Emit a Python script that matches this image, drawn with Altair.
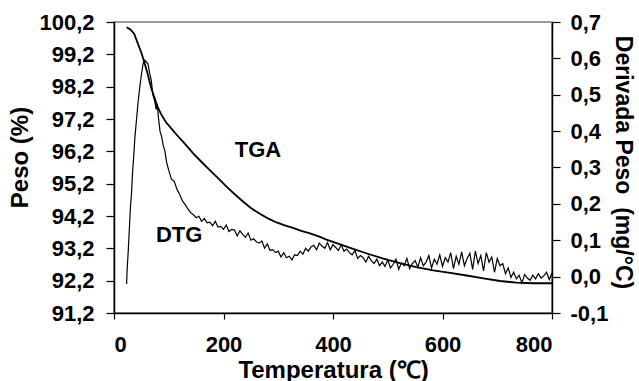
import altair as alt
import pandas as pd

# ---- data ----
tga_temp = [23, 30, 37, 45, 50, 55, 61, 67, 73, 79, 86, 95, 105, 114, 130, 145, 160, 175,
            190, 206, 220, 236, 250, 267, 282, 297, 312, 327, 342, 358, 375, 388, 400, 430,
            462, 492, 522, 552, 583, 614, 644, 675, 705, 735, 765, 800]
tga_peso = [100.04, 99.97, 99.83, 99.47, 99.25, 98.98, 98.62, 98.22, 97.90, 97.60, 97.35,
            97.10, 96.90, 96.72, 96.42, 96.13, 95.87, 95.62, 95.37, 95.10, 94.88, 94.64,
            94.45, 94.26, 94.12, 94.00, 93.91, 93.83, 93.74, 93.66, 93.56, 93.47, 93.40,
            93.22, 93.04, 92.88, 92.74, 92.62, 92.52, 92.44, 92.36, 92.27, 92.19, 92.14,
            92.12, 92.12]

dtg_temp = [23, 24, 26, 28, 30, 32, 34, 36, 38, 41, 44, 47, 50, 53, 56, 59, 62, 65, 68, 71,
            74, 77, 79, 81, 84, 87, 90, 93, 96,
            100, 105, 110, 115, 120, 125, 130, 135, 140, 145, 150, 155, 160, 165, 170, 175, 180, 185, 190, 195,
            200, 205, 210, 215, 220, 225, 230, 235, 240, 245, 250, 255, 260, 265, 270, 275, 280, 285, 290, 295,
            300, 305, 310, 315, 320, 325, 330, 335, 340, 345, 350, 355, 360, 365, 370, 375, 380, 385, 390, 395,
            400, 405, 410, 415, 420, 425, 430, 435, 440, 445, 450, 455, 460, 465, 470, 475, 480, 485, 490, 495,
            500, 505, 510, 515, 520, 525, 530, 535, 540, 545, 550, 555, 560, 565, 570, 575, 580, 585, 590, 595,
            600, 605, 610, 615, 620, 625, 630, 635, 640, 645, 650, 655, 660, 665, 670, 675, 680, 685, 690, 695,
            700, 705, 710, 715, 720, 725, 730, 735, 740, 745, 750, 755, 760, 765, 770, 775, 780, 785, 790, 795,
            800]
dtg_val = [-0.020, 0.020, 0.070, 0.130, 0.190, 0.230, 0.290, 0.330, 0.380, 0.430, 0.480,
           0.520, 0.555, 0.585, 0.595, 0.590, 0.585, 0.560, 0.540, 0.500, 0.485, 0.460,
           0.475, 0.440, 0.400, 0.385, 0.360, 0.345, 0.315,
           0.292, 0.268, 0.262, 0.240, 0.226, 0.208, 0.198, 0.186, 0.176, 0.170, 0.162, 0.166, 0.152, 0.160, 0.148, 0.150, 0.140, 0.152, 0.136, 0.138,
           0.130, 0.142, 0.124, 0.130, 0.128, 0.112, 0.126, 0.116, 0.108, 0.120, 0.100, 0.104, 0.096, 0.092, 0.098, 0.078, 0.090, 0.072, 0.074, 0.066,
           0.070, 0.054, 0.066, 0.052, 0.056, 0.046, 0.060, 0.058, 0.070, 0.062, 0.078, 0.070, 0.082, 0.086, 0.074, 0.092, 0.084, 0.078, 0.094, 0.074,
           0.088, 0.080, 0.072, 0.088, 0.070, 0.076, 0.066, 0.060, 0.072, 0.050, 0.058, 0.052, 0.040, 0.056, 0.044, 0.036, 0.048, 0.030, 0.040, 0.028,
           0.046, 0.024, 0.034, 0.048, 0.020, 0.038, 0.030, 0.050, 0.022, 0.036, 0.044, 0.026, 0.052, 0.030, 0.040, 0.058, 0.024, 0.048, 0.034, 0.060,
           0.028, 0.052, 0.040, 0.066, 0.022, 0.056, 0.034, 0.068, 0.030, 0.050, 0.064, 0.020, 0.070, 0.036, 0.058, 0.016, 0.066, 0.040, 0.054, 0.012,
           0.050, 0.030, 0.036, 0.008, 0.024, -0.002, 0.012, -0.006, 0.004, -0.018, 0.006, -0.004, -0.010, 0.004, -0.006, 0.008, -0.004, 0.002, 0.012, -0.008,
           0.010]

x_ticks = [0, 200, 400, 600, 800]
peso_ticks = [91.2, 92.2, 93.2, 94.2, 95.2, 96.2, 97.2, 98.2, 99.2, 100.2]
dtg_ticks = [-0.1, 0.0, 0.1, 0.2, 0.3, 0.4, 0.5, 0.6, 0.7]

labels = ["TGA", "DTG"]
label_temp = [263, 119]
label_peso = [96.24, 93.62]

tga_df = pd.DataFrame({"T": tga_temp, "peso": tga_peso})
dtg_df = pd.DataFrame({"T": dtg_temp, "dtg": dtg_val})
lab_df = pd.DataFrame({"label": labels, "T": label_temp, "peso": label_peso})

FONT = "Liberation Sans"
FS = 22
TFS = 24

common = dict(grid=False, labelFontSize=FS, labelFontWeight="bold",
              titleFontWeight="bold", labelFont=FONT, titleFont=FONT, domainColor="black",
              tickColor="black", domainWidth=1.5, tickWidth=1.2, labelColor="black",
              titleColor="black")

x_axis = alt.Axis(values=x_ticks, title="Temperatura (℃)", tickSize=6, labelPadding=15,
                  titlePadding=3, titleFontSize=TFS, format="d", **common)
x_scale = alt.Scale(domain=[0, 800], nice=False)

peso_scale = alt.Scale(domain=[91.2, 100.2], nice=False, zero=False)
dtg_scale = alt.Scale(domain=[-0.1, 0.7], nice=False, zero=False)

peso_axis = alt.Axis(values=peso_ticks, title="Peso (%)", tickSize=8, labelPadding=12,
                     titlePadding=6, titleY=135, titleFontSize=TFS,
                     labelExpr="replace(format(datum.value, '.1f'), '.', ',')", **common)
dtg_axis = alt.Axis(values=dtg_ticks, title="Derivada Peso\u00a0 (mg/°C)", orient="right",
                    tickSize=8, labelPadding=10, titlePadding=3, titleY=140,
                    titleFontSize=23,
                    labelExpr="(datum.value < 0 ? '-' : '') + replace(format(abs(datum.value), '.1f'), '.', ',')",
                    **common)

tga_line = alt.Chart(tga_df).mark_line(color="black", strokeWidth=1.8).encode(
    x=alt.X("T:Q", scale=x_scale, axis=x_axis),
    y=alt.Y("peso:Q", scale=peso_scale, axis=peso_axis),
    order="T:Q",
)
texts = alt.Chart(lab_df).mark_text(font=FONT, fontSize=FS, fontWeight="bold",
                                   color="black").encode(
    x=alt.X("T:Q", scale=x_scale, axis=x_axis),
    y=alt.Y("peso:Q", scale=peso_scale, axis=peso_axis),
    text="label:N",
)
left = alt.layer(tga_line, texts)

dtg_line = alt.Chart(dtg_df).mark_line(color="black", strokeWidth=1.2).encode(
    x=alt.X("T:Q", scale=x_scale, axis=x_axis),
    y=alt.Y("dtg:Q", scale=dtg_scale, axis=dtg_axis),
    order="T:Q",
)

chart = alt.layer(left, dtg_line).resolve_scale(y="independent").properties(
    width=438, height=291,
    autosize=alt.AutoSizeParams(type="none"),
    padding={"left": 114, "top": 22, "right": 87, "bottom": 68},
    background="white",
).configure_view(stroke="#777777", strokeWidth=1.5)

chart.save("out.html", embed_options={"renderer": "svg", "actions": False})
